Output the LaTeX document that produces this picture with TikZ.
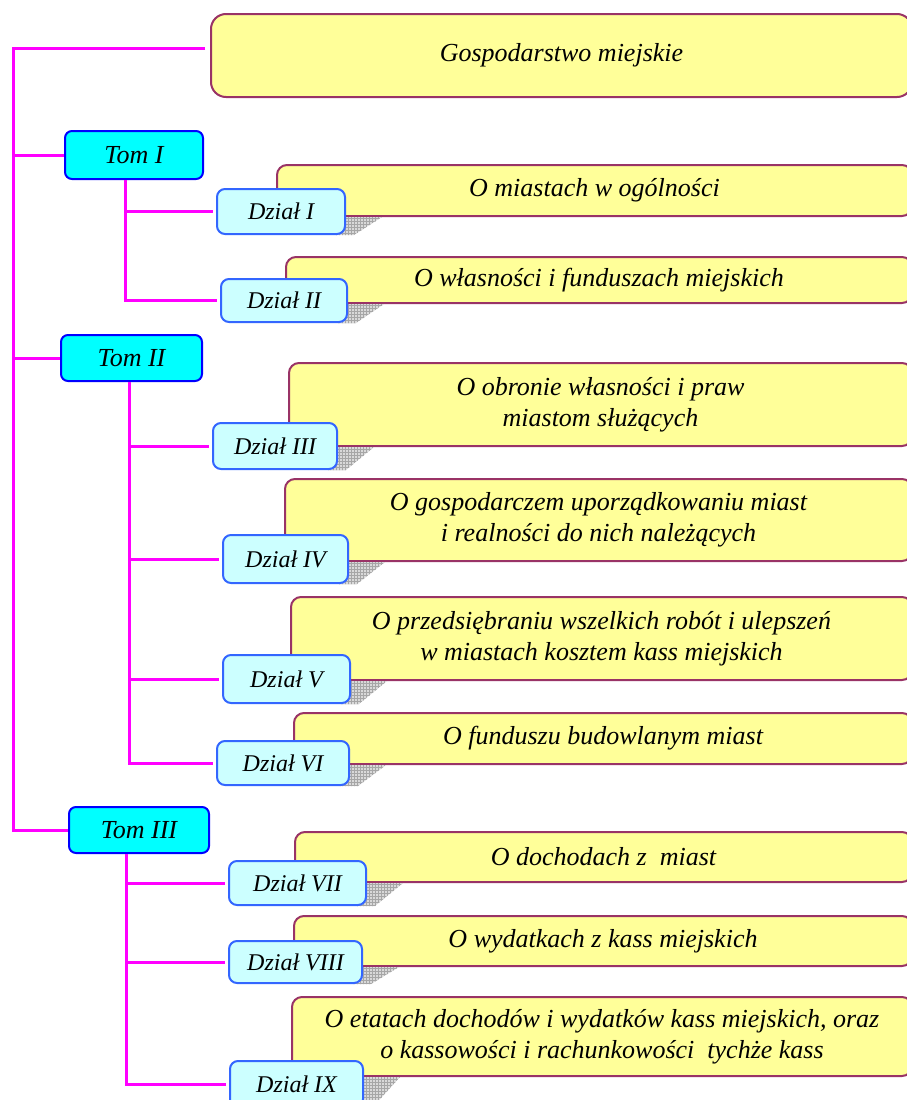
\documentclass[tikz,border=0pt]{standalone}
\usepackage{fontspec}
\setmainfont{Liberation Serif}
\usetikzlibrary{patterns}
\definecolor{magline}{HTML}{FF00FF}
\definecolor{ybox}{HTML}{FFFF99}
\definecolor{yborder}{HTML}{993366}
\definecolor{tfill}{HTML}{00FFFF}
\definecolor{tborder}{HTML}{0000FF}
\definecolor{dfill}{HTML}{CCFFFF}
\definecolor{dborder}{HTML}{3366FF}
\pgfdeclarelayer{back}
\pgfdeclarelayer{mid}
\pgfsetlayers{back,mid,main}
\tikzset{
 conn/.style={draw=magline, line width=3pt},
 ytitle/.style={draw=yborder, fill=ybox, line width=2pt, rounded corners=10pt, inner sep=0pt, align=center, font=\fontsize{26}{31}\selectfont\itshape},
 tombox/.style={draw=tborder, fill=tfill, line width=2pt, rounded corners=7pt, inner sep=0pt, font=\fontsize{26}{31}\selectfont\itshape},
 dzbox/.style={draw=dborder, fill=dfill, line width=2pt, rounded corners=8pt, inner sep=0pt, font=\fontsize{24}{29}\selectfont\itshape},
 shadowfill/.style={fill=gray!30},
 shadowgrid/.style={pattern=grid, pattern color=gray!70},
}
\newcommand\dshadow[2]{%
 \coordinate (sa) at (#1.east |- #2.south);
 \path[shadowfill] ([xshift=-10pt]sa) -- ([xshift=36pt]sa) -- ([xshift=8pt]#1.south east) -- ([xshift=-10pt]#1.south east) -- cycle;
 \path[shadowgrid] ([xshift=-10pt]sa) -- ([xshift=36pt]sa) -- ([xshift=8pt]#1.south east) -- ([xshift=-10pt]#1.south east) -- cycle;}
\begin{document}
\begin{tikzpicture}[x=1pt,y=-1pt]
\useasboundingbox (0,0) rectangle (907,1100);
\clip (0,0) rectangle (907,1100);
\begin{pgfonlayer}{back}
\node[ytitle, rounded corners=15pt, minimum width=701, minimum height=83] (y0) at (561.5,55.5) {Gospodarstwo miejskie};
\node[ytitle, minimum width=635, minimum height=51] (y1) at (594.5,190.5) {O miastach w ogólności};
\node[ytitle, minimum width=626, minimum height=46] (y2) at (599,280) {O własności i funduszach miejskich};
\node[ytitle, minimum width=623, minimum height=83] (y3) at (600.5,404.5) {O obronie własności i praw\\miastom służących};
\node[ytitle, minimum width=627, minimum height=82] (y4) at (598.5,520) {O gospodarczem uporządkowaniu miast\\i realności do nich należących};
\node[ytitle, minimum width=621, minimum height=83] (y5) at (601.5,638.5) {O przedsiębraniu wszelkich robót i ulepszeń\\w miastach kosztem kass miejskich};
\node[ytitle, minimum width=618, minimum height=51] (y6) at (603,738.5) {O funduszu budowlanym miast};
\node[ytitle, minimum width=617, minimum height=50] (y7) at (603.5,857) {O dochodach z\ \ miast};
\node[ytitle, minimum width=618, minimum height=50] (y8) at (603,941) {O wydatkach z kass miejskich};
\node[ytitle, minimum width=620, minimum height=79] (y9) at (602,1036.5) {O etatach dochodów i wydatków kass miejskich, oraz\\o kassowości i rachunkowości\ \ tychże kass};
\end{pgfonlayer}
% volumes
\node[tombox, minimum width=138, minimum height=48] (t1) at (134,155) {Tom I};
\node[tombox, minimum width=141, minimum height=46] (t2) at (131.5,358) {Tom II};
\node[tombox, minimum width=140, minimum height=46] (t3) at (139,830) {Tom III};
% sections
\node[dzbox, minimum width=128, minimum height=45] (d1) at (281,211.5) {Dział I};
\node[dzbox, minimum width=126, minimum height=43] (d2) at (284,300.5) {Dział II};
\node[dzbox, minimum width=124, minimum height=46] (d3) at (275,446) {Dział III};
\node[dzbox, minimum width=125, minimum height=48] (d4) at (285.5,559) {Dział IV};
\node[dzbox, minimum width=127, minimum height=48] (d5) at (286.5,679) {Dział V};
\node[dzbox, minimum width=132, minimum height=44] (d6) at (283,763) {Dział VI};
\node[dzbox, minimum width=137, minimum height=44] (d7) at (297.5,883) {Dział VII};
\node[dzbox, minimum width=133, minimum height=42] (d8) at (295.5,962) {Dział VIII};
\node[dzbox, minimum width=133, minimum height=46] (d9) at (296.5,1084) {Dział IX};
% shadows
\begin{pgfonlayer}{mid}
\dshadow{d1}{y1}
\dshadow{d2}{y2}
\dshadow{d3}{y3}
\dshadow{d4}{y4}
\dshadow{d5}{y5}
\dshadow{d6}{y6}
\dshadow{d7}{y7}
\dshadow{d8}{y8}
\dshadow{d9}{y9}
\end{pgfonlayer}
% connectors
\coordinate (root) at (13,48);
\coordinate (ytop) at ([xshift=-5pt]y0.west);
\draw[conn] (ytop |- root) -- (root) |- (t3.west);
\draw[conn] (root |- t1.west) -- (t1.west);
\draw[conn] (root |- t2.west) -- (t2.west);
\coordinate (v1) at ([xshift=-9pt]t1.south);
\coordinate (v2) at ([xshift=-2.5pt]t2.south);
\coordinate (v3) at ([xshift=-13pt]t3.south);
\coordinate (e1) at ([xshift=-3pt]d1.west);
\coordinate (e2) at ([xshift=-3pt]d2.west);
\coordinate (e3) at ([xshift=-3pt]d3.west);
\coordinate (e4) at ([xshift=-3pt]d4.west);
\coordinate (e5) at ([xshift=-3pt]d5.west);
\coordinate (e6) at ([xshift=-3pt]d6.west);
\coordinate (e7) at ([xshift=-3pt]d7.west);
\coordinate (e8) at ([xshift=-3pt]d8.west);
\coordinate (e9) at ([xshift=-3pt]d9.west);
\draw[conn] (v1) |- (e2);
\draw[conn] (v1 |- e1) -- (e1);
\draw[conn] (v2) |- (e6);
\draw[conn] (v2 |- e3) -- (e3);
\draw[conn] (v2 |- e4) -- (e4);
\draw[conn] (v2 |- e5) -- (e5);
\draw[conn] (v3) |- (e9);
\draw[conn] (v3 |- e7) -- (e7);
\draw[conn] (v3 |- e8) -- (e8);
\end{tikzpicture}
\end{document}
